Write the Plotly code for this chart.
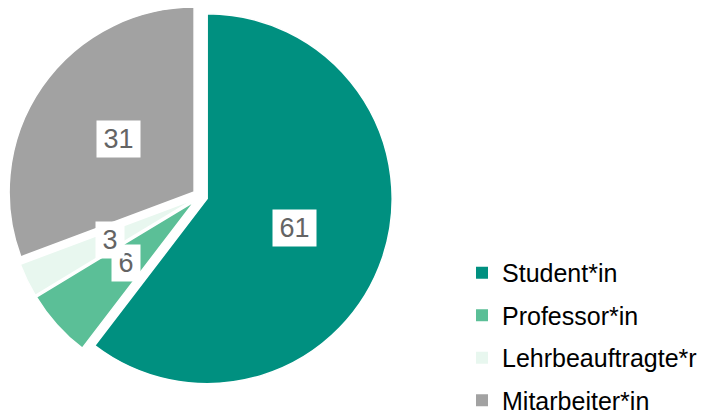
import math
import plotly.graph_objects as go

categories = ["Student*in", "Professor*in", "Lehrbeauftragte*r", "Mitarbeiter*in"]
values = [61, 6, 3, 31]
colors = ["#009080", "#5bbf97", "#e8f7ef", "#a2a2a2"]

W, H = 707, 415
PULL = 0.04
FONT = "Arial, Liberation Sans, sans-serif"

# pie domain in paper coords
dom_x = [0.01103, 0.55523]
dom_y = [0.0634, 0.9906]

fig = go.Figure()
fig.add_trace(go.Pie(
    labels=categories, values=values, sort=False, direction="clockwise", rotation=0,
    marker=dict(colors=colors, line=dict(color="white", width=1.5)),
    pull=[PULL] * len(values), textinfo="none", hoverinfo="label+value",
    showlegend=False, domain=dict(x=dom_x, y=dom_y),
))

# legend entries
for name, col in zip(categories, colors):
    fig.add_trace(go.Scatter(
        x=[None], y=[None], mode="markers", name=name, legendgroup=name,
        marker=dict(symbol="square", size=12, color=col),
    ))

# value labels with white boxes, positioned along slice bisectors
cx = (dom_x[0] + dom_x[1]) / 2
cy = (dom_y[0] + dom_y[1]) / 2
D = min((dom_x[1] - dom_x[0]) * W, (dom_y[1] - dom_y[0]) * H)
R = D / (2 * (1 + PULL))
total = sum(values)
cum = 0
for v in values:
    mid = (cum + v / 2) / total * 2 * math.pi
    cum += v
    d = R * (0.5 + PULL)
    ax = cx + d * math.sin(mid) / W
    ay = cy + d * math.cos(mid) / H
    txt = str(v)
    fig.add_annotation(
        x=ax, y=ay, xref="paper", yref="paper", text=txt, showarrow=False,
        font=dict(family=FONT, size=27, color="#646464"),
        bgcolor="white", borderpad=0, width=15 * len(txt) + 13, height=36,
        xanchor="center", yanchor="middle",
    )

fig.update_layout(
    width=W, height=H, margin=dict(l=0, r=0, t=0, b=0, autoexpand=False),
    paper_bgcolor="white", plot_bgcolor="white",
    xaxis=dict(visible=False), yaxis=dict(visible=False),
    legend=dict(
        x=0.6535, y=0.3976, xanchor="left", yanchor="top",
        font=dict(family=FONT, size=25, color="#000000"),
        tracegroupgap=7, bgcolor="rgba(0,0,0,0)",
    ),
)

fig.write_html(
    "out.html",
    config={"displayModeBar": False},
    post_script="document.body.style.margin='0';document.body.style.overflow='hidden';",
)
